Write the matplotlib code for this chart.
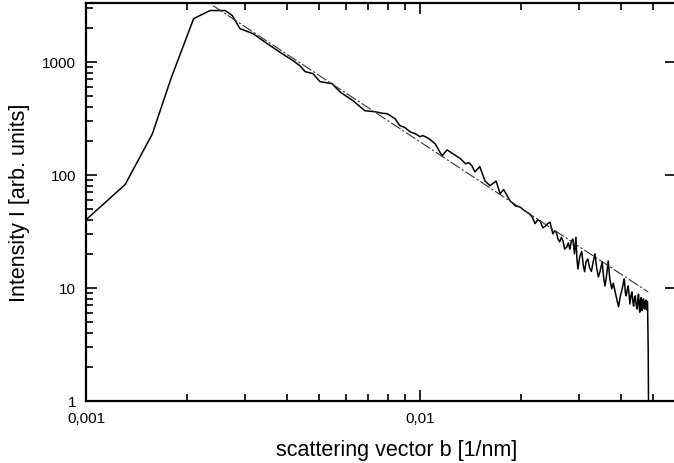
import numpy as np
import matplotlib
matplotlib.use('Agg')
import matplotlib.pyplot as plt
from matplotlib.ticker import FixedLocator, FixedFormatter, NullFormatter

plt.rcParams['font.family'] = ['Liberation Sans', 'DejaVu Sans']

b = [0.001, 0.00131, 0.00158, 0.0018, 0.0021, 0.00235, 0.00261, 0.00274, 0.00289,
     0.00316, 0.00332, 0.00356, 0.00386, 0.00417, 0.00437, 0.00453, 0.00478, 0.00502,
     0.00545, 0.00576, 0.0063, 0.00684, 0.00733, 0.0077, 0.00797, 0.00842, 0.0087,
     0.0090, 0.00933, 0.0097, 0.01, 0.0102, 0.0106, 0.0111, 0.01164, 0.01205, 0.01256,
     0.0132, 0.0137, 0.0140, 0.0143, 0.0146, 0.0151, 0.01566, 0.0162, 0.0169, 0.01737,
     0.0178, 0.01859, 0.0193, 0.0199, 0.0206, 0.0213, 0.0217, 0.0221, 0.0225, 0.0229,
     0.0233, 0.0237, 0.0241, 0.0245, 0.0248, 0.025, 0.0253, 0.0256, 0.0259, 0.0262,
     0.0265, 0.0268, 0.0271, 0.0275, 0.0278, 0.0281, 0.0284, 0.0287, 0.0290, 0.0293,
     0.0295, 0.0297, 0.0301, 0.0305, 0.0308, 0.0311, 0.0314, 0.0318, 0.0322, 0.0326,
     0.0330, 0.0334, 0.0338, 0.0342, 0.0346, 0.0351, 0.0355, 0.0358, 0.0362, 0.0366,
     0.0370, 0.0375, 0.0379, 0.0384, 0.0388, 0.0393, 0.0398, 0.0403, 0.0406, 0.0409,
     0.0412, 0.0414, 0.0417, 0.042, 0.0423, 0.0425, 0.0428, 0.0431, 0.0434, 0.0436,
     0.0439, 0.0441, 0.0444, 0.0447, 0.0449, 0.0451, 0.0453, 0.0455, 0.0457, 0.0459,
     0.0461, 0.0463, 0.0465, 0.0467, 0.0469, 0.0471, 0.0473, 0.0475, 0.0477, 0.0478,
     0.0479, 0.0480, 0.0482, 0.0484]
intensity = [40, 82, 230, 720, 2400, 2830, 2830, 2560, 1960,
             1770, 1600, 1385, 1180, 1020, 920, 816, 783, 665,
             640, 540, 452, 368, 361, 350, 347, 313, 272,
             262, 240, 230, 217, 222, 210, 188, 147, 166, 153,
             139, 125, 128, 120, 106, 118, 88, 80, 88, 68,
             74, 59, 53, 52, 48, 45, 42, 37, 40, 39,
             34, 35, 37, 38, 33, 30, 32, 31, 27, 25.5,
             28, 26, 22, 23, 25, 22, 26, 27, 20, 28,
             18, 14.7, 19, 21, 16, 13.9, 17, 18, 15, 14,
             17, 20, 15, 12.5, 14, 17, 12, 10.4, 13, 17.3,
             12, 9.8, 11, 9.2, 8, 6.8, 8.5, 9.8, 11, 12,
             9, 8.5, 9.5, 10.4, 8.5, 7.2, 8.5, 9.2, 7.5, 6.9,
             8.2, 8.5, 7, 6.5, 8, 8.8, 7, 6.1, 7.8, 8.2,
             6.5, 6.3, 7.9, 8.0, 6.6, 6.5, 7.7, 7.8, 6.4, 6.8,
             7.6, 7.5, 3.0, 0.5]

# power law fit line
fit_b = [0.0024, 0.0482]
fit_i = [3130, 9.2]

xticks = [0.001, 0.01]
xtick_labels = ['0,001', '0,01']
yticks = [1, 10, 100, 1000]
ytick_labels = ['1', '10', '100', '1000']

fig = plt.figure(figsize=(6.74, 4.64), dpi=100)
ax = fig.add_axes([86 / 674, 62 / 464, 590 / 674, 398 / 464])

ax.plot(b, intensity, color='black', lw=1.1)
ax.plot(fit_b, fit_i, color='#333333', lw=0.8, ls=(0, (10, 2, 2, 2)))

ax.set_xscale('log')
ax.set_yscale('log')
ax.set_xlim(0.001, 0.0584)
ax.set_ylim(1, 3300)

ax.xaxis.set_major_locator(FixedLocator(xticks))
ax.xaxis.set_major_formatter(FixedFormatter(xtick_labels))
ax.xaxis.set_minor_locator(FixedLocator([k * 0.001 for k in range(2, 10)] +
                                        [k * 0.01 for k in range(2, 6)]))
ax.xaxis.set_minor_formatter(NullFormatter())
ax.yaxis.set_major_locator(FixedLocator(yticks))
ax.yaxis.set_major_formatter(FixedFormatter(ytick_labels))
ax.yaxis.set_minor_locator(FixedLocator([k * 10 ** e for e in range(0, 4) for k in range(2, 10)]))
ax.yaxis.set_minor_formatter(NullFormatter())

ax.tick_params(which='both', direction='in', top=True, right=True, width=1.2,
               labelsize=11, pad=7)
ax.tick_params(which='major', length=8)
ax.tick_params(which='minor', length=5)
ax.tick_params(axis='y', which='minor', right=False)

for s in ax.spines.values():
    s.set_linewidth(1.6)

ax.set_xlabel('scattering vector b [1/nm]', fontsize=15.5)
ax.set_ylabel('Intensity I [arb. units]', fontsize=15.5, labelpad=9)
# x label sits a bit right of the axes centre in the original
ax.xaxis.set_label_coords(0.527, -0.095)

fig.savefig('out.png', dpi=100)
